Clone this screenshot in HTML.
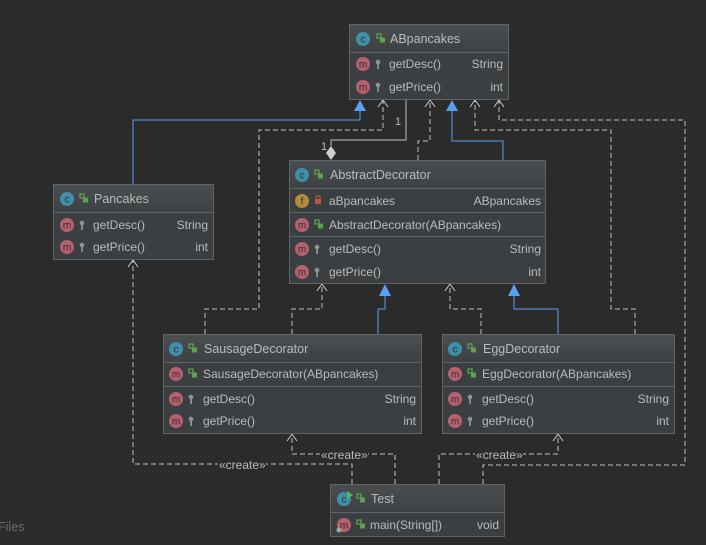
<!DOCTYPE html>
<html><head><meta charset="utf-8"><style>
html,body{margin:0;padding:0;background:#2b2b2b;}
svg{display:block;}
text{font-family:"Liberation Sans","DejaVu Sans",sans-serif;font-size:12px;fill:#bbbbbb;}
.t{font-size:12.5px;}
.ic{font-size:10px;fill:#3a2a2e;text-anchor:middle;}
.r{text-anchor:end;}
</style></head><body>
<svg width="706" height="545" viewBox="0 0 706 545" xmlns="http://www.w3.org/2000/svg">
<defs>
<linearGradient id="hg" x1="0" y1="0" x2="0" y2="1"><stop offset="0" stop-color="#4b4e50"/><stop offset="1" stop-color="#3e4143"/></linearGradient>
<g id="mi"><circle r="7" fill="#b5616f"/><text class="ic" y="3.5">m</text></g>
<g id="ci"><circle r="7" fill="#3f8fa8"/><text class="ic" y="3.5">c</text></g>
<g id="fi"><circle r="7" fill="#b38c3b"/><text class="ic" y="3.5">f</text></g>
<g id="pub"><rect x="-3" y="-4" width="4" height="4" fill="none" stroke="#5ca24f" stroke-width="1.3"/><rect x="0" y="-0.5" width="5" height="5" fill="#5ca24f"/></g>
<g id="key"><circle cx="0" cy="-2" r="2.3" fill="#8f9396"/><rect x="-0.8" y="-1" width="1.8" height="6" fill="#8f9396"/></g>
<g id="lock"><rect x="-3" y="-1" width="6" height="5" fill="#c0523e"/><rect x="-2" y="-4" width="4" height="4" fill="none" stroke="#c0523e" stroke-width="1.2"/></g>
</defs>

<g fill="none" stroke-width="1">
<g stroke="#5a9ef0">
<polyline points="133,184 133,120 360,120 360,110"/>
<polyline points="503,160 503,141 452,141 452,110"/>
<polyline points="378,334 378,309 385,309 385,296"/>
<polyline points="558,334 558,309 514,309 514,296"/>
</g>
<polyline stroke="#c0c0c0" points="406,100 406,140 331,140 331,146"/>
<g stroke="#c0c0c0" stroke-dasharray="5,3">
<polyline points="205,334 205,309 259,309 259,130 383,130 383,100"/>
<polyline points="418,160 418,141 430,141 430,100"/>
<polyline points="635,334 635,309 611,309 611,130 475,130 475,100"/>
<polyline points="483,484 483,465 685,465 685,120 499,120 499,100"/>
<polyline points="292,334 292,309 322,309 322,284"/>
<polyline points="481,334 481,309 450,309 450,284"/>
<polyline points="352,484 352,464 133,464 133,260"/>
<polyline points="395,484 395,454 292,454 292,434"/>
<polyline points="439,484 439,454 558,454 558,434"/>
</g>
<g stroke="#c8c8c8">
<polyline points="378,107 383,100 388,107"/>
<polyline points="425,107 430,100 435,107"/>
<polyline points="470,107 475,100 480,107"/>
<polyline points="494,107 499,100 504,107"/>
<polyline points="317,291 322,284 327,291"/>
<polyline points="445,291 450,284 455,291"/>
<polyline points="128,267 133,260 138,267"/>
<polyline points="287,441 292,434 297,441"/>
<polyline points="553,441 558,434 563,441"/>
</g>
</g>
<g fill="#5a9ef0">
<polygon points="360,100 354,111 366,111"/>
<polygon points="452,100 446,111 458,111"/>
<polygon points="385,284 379,296 391,296"/>
<polygon points="514,284 508,296 520,296"/>
</g>
<polygon points="331,146 336,153 331,160 326,153" fill="#cfcfcf"/>
<text x="395" y="125" style="font-size:11px">1</text>
<text x="321" y="150" style="font-size:11px">1</text>
<g style="font-size:11px">
<rect x="320" y="449" width="48" height="10" fill="#2b2b2b"/><text x="321" y="459">«create»</text>
<rect x="475" y="449" width="48" height="10" fill="#2b2b2b"/><text x="476" y="459">«create»</text>
<rect x="218" y="459" width="48" height="10" fill="#2b2b2b"/><text x="219" y="469">«create»</text>
</g>

<g>
<rect x="349.5" y="24.5" width="159" height="75" fill="#3c3f41" stroke="#616466"/>
<rect x="350" y="25" width="158" height="27" fill="url(#hg)"/>
<line x1="350" y1="52.5" x2="508" y2="52.5" stroke="#616466"/>
<use href="#ci" x="363" y="39"/><use href="#pub" x="380" y="38"/>
<text class="t" x="390" y="43">ABpancakes</text>
<use href="#mi" x="363" y="64"/><use href="#key" x="378" y="64"/><text x="389" y="68">getDesc()</text><text class="r" x="503" y="68">String</text>
<use href="#mi" x="363" y="87"/><use href="#key" x="378" y="87"/><text x="389" y="91">getPrice()</text><text class="r" x="503" y="91">int</text>
</g>

<g>
<rect x="53.5" y="184.5" width="160" height="75" fill="#3c3f41" stroke="#616466"/>
<rect x="54" y="185" width="159" height="27" fill="url(#hg)"/>
<line x1="54" y1="212.5" x2="213" y2="212.5" stroke="#616466"/>
<use href="#ci" x="67" y="199"/><use href="#pub" x="83" y="198"/>
<text class="t" x="94" y="203">Pancakes</text>
<use href="#mi" x="67" y="225"/><use href="#key" x="82" y="225"/><text x="93" y="229">getDesc()</text><text class="r" x="208" y="229">String</text>
<use href="#mi" x="67" y="247"/><use href="#key" x="82" y="247"/><text x="93" y="251">getPrice()</text><text class="r" x="208" y="251">int</text>
</g>

<g>
<rect x="289.5" y="160.5" width="256" height="123" fill="#3c3f41" stroke="#616466"/>
<rect x="290" y="161" width="255" height="27" fill="url(#hg)"/>
<line x1="290" y1="188.5" x2="545" y2="188.5" stroke="#616466"/>
<line x1="290" y1="212.5" x2="545" y2="212.5" stroke="#616466"/>
<line x1="290" y1="236.5" x2="545" y2="236.5" stroke="#616466"/>
<use href="#ci" x="302" y="175"/><use href="#pub" x="318" y="174"/>
<text class="t" x="330" y="179">AbstractDecorator</text>
<use href="#fi" x="302" y="201"/><use href="#lock" x="318" y="200"/><text x="329" y="205">aBpancakes</text><text class="r" x="541" y="205">ABpancakes</text>
<use href="#mi" x="302" y="225"/><use href="#pub" x="318" y="224"/><text x="329" y="229">AbstractDecorator(ABpancakes)</text>
<use href="#mi" x="302" y="249"/><use href="#key" x="317" y="249"/><text x="329" y="253">getDesc()</text><text class="r" x="541" y="253">String</text>
<use href="#mi" x="302" y="272"/><use href="#key" x="317" y="272"/><text x="329" y="276">getPrice()</text><text class="r" x="541" y="276">int</text>
</g>

<g>
<rect x="163.5" y="334.5" width="258" height="99" fill="#3c3f41" stroke="#616466"/>
<rect x="164" y="335" width="257" height="27" fill="url(#hg)"/>
<line x1="164" y1="362.5" x2="421" y2="362.5" stroke="#616466"/>
<line x1="164" y1="386.5" x2="421" y2="386.5" stroke="#616466"/>
<use href="#ci" x="176" y="349"/><use href="#pub" x="192" y="348"/>
<text class="t" x="204" y="353">SausageDecorator</text>
<use href="#mi" x="176" y="374"/><use href="#pub" x="192" y="373"/><text x="203" y="378">SausageDecorator(ABpancakes)</text>
<use href="#mi" x="176" y="399"/><use href="#key" x="191" y="399"/><text x="203" y="403">getDesc()</text><text class="r" x="416" y="403">String</text>
<use href="#mi" x="176" y="421"/><use href="#key" x="191" y="421"/><text x="203" y="425">getPrice()</text><text class="r" x="416" y="425">int</text>
</g>

<g>
<rect x="442.5" y="334.5" width="232" height="99" fill="#3c3f41" stroke="#616466"/>
<rect x="443" y="335" width="231" height="27" fill="url(#hg)"/>
<line x1="443" y1="362.5" x2="674" y2="362.5" stroke="#616466"/>
<line x1="443" y1="386.5" x2="674" y2="386.5" stroke="#616466"/>
<use href="#ci" x="455" y="349"/><use href="#pub" x="471" y="348"/>
<text class="t" x="483" y="353">EggDecorator</text>
<use href="#mi" x="455" y="374"/><use href="#pub" x="471" y="373"/><text x="482" y="378">EggDecorator(ABpancakes)</text>
<use href="#mi" x="455" y="399"/><use href="#key" x="470" y="399"/><text x="482" y="403">getDesc()</text><text class="r" x="669" y="403">String</text>
<use href="#mi" x="455" y="421"/><use href="#key" x="470" y="421"/><text x="482" y="425">getPrice()</text><text class="r" x="669" y="425">int</text>
</g>

<g>
<rect x="330.5" y="484.5" width="174" height="52" fill="#3c3f41" stroke="#616466"/>
<rect x="331" y="485" width="173" height="27" fill="url(#hg)"/>
<line x1="331" y1="512.5" x2="504" y2="512.5" stroke="#616466"/>
<use href="#ci" x="344" y="499"/><polygon points="347,491 353,495 347,499" fill="#4fb85a"/><use href="#pub" x="360" y="498"/>
<text class="t" x="371" y="503">Test</text>
<use href="#mi" x="344" y="525"/><circle cx="339" cy="530" r="2.5" fill="#9aa"/><use href="#pub" x="360" y="524"/><text x="370" y="529">main(String[])</text><text class="r" x="499" y="529">void</text>
</g>

<text x="-2" y="531" style="fill:#6a6a6a;font-size:12.5px">Files</text>
</svg>
</body></html>
